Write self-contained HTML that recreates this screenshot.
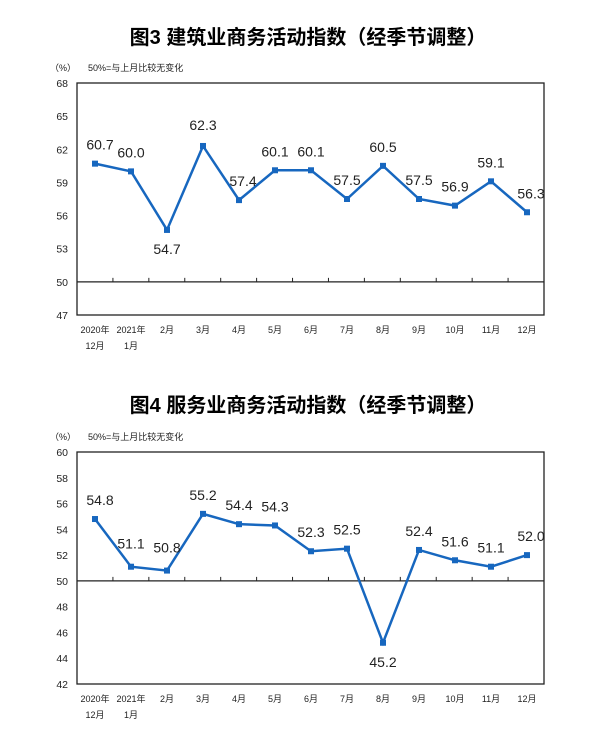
<!DOCTYPE html><html><head><meta charset="utf-8"><style>body{margin:0;background:#fff}svg{display:block}text{font-family:"Liberation Sans","Noto Sans CJK SC",sans-serif}</style></head><body>
<svg id="s" width="602" height="730" xmlns="http://www.w3.org/2000/svg"></svg>
<script>
const s=document.getElementById('s');let h='';
const mons=['2020年','2021年','2月','3月','4月','5月','6月','7月','8月','9月','10月','11月','12月'];
function chart(title,ty,top,bot,ymin,ymax,step,data,offs){
 h+=`<text x="308" y="${ty}" font-size="20" font-weight="bold" text-anchor="middle" fill="#000">${title}</text>`;
 h+=`<text x="50" y="${top-12}" font-size="9" fill="#222">（%）</text><text x="88" y="${top-12}" font-size="9" fill="#222">50%=与上月比较无变化</text>`;
 const Y=v=>bot-(v-ymin)*(bot-top)/(ymax-ymin);
 h+=`<rect x="77" y="${top}" width="467" height="${bot-top}" fill="none" stroke="#222" stroke-width="1.3"/>`;
 for(let v=ymin;v<=ymax;v+=step)h+=`<text x="68" y="${Y(v)+4}" font-size="10.5" text-anchor="end" fill="#222">${v}</text>`;
 const y50=Y(50);h+=`<line x1="77" y1="${y50}" x2="544" y2="${y50}" stroke="#222" stroke-width="1.2"/>`;
 for(let i=1;i<13;i++){const x=77+i*467/13;h+=`<line x1="${x}" y1="${y50}" x2="${x}" y2="${y50-4}" stroke="#222"/>`}
 mons.forEach((m,i)=>{const x=95+i*36;h+=`<text x="${x}" y="${bot+18}" font-size="9" text-anchor="middle" fill="#222">${m}</text>`});
 h+=`<text x="95" y="${bot+34}" font-size="9" text-anchor="middle" fill="#222">12月</text><text x="131" y="${bot+34}" font-size="9" text-anchor="middle" fill="#222">1月</text>`;
 let p=data.map((v,i)=>`${95+i*36},${Y(v)}`).join(' ');
 h+=`<polyline points="${p}" fill="none" stroke="#1767BF" stroke-width="2.5"/>`;
 data.forEach((v,i)=>{const x=95+i*36,y=Y(v);h+=`<rect x="${x-3}" y="${y-3}" width="6" height="6" fill="#1767BF"/>`;
 const o=offs[i];h+=`<text x="${x+(o[0]||0)}" y="${y+o[1]}" font-size="14" text-anchor="middle" fill="#222">${v.toFixed(1)}</text>`});
}
const U=[0,-14],D=[0,24];
chart('图3  建筑业商务活动指数（经季节调整）',44,83,315,47,68,3,[60.7,60.0,54.7,62.3,57.4,60.1,60.1,57.5,60.5,57.5,56.9,59.1,56.3],[[5,-14],U,D,[0,-16],[4,-14],U,U,U,U,U,U,U,[4,-14]]);
chart('图4  服务业商务活动指数（经季节调整）',412,452,684,42,60,2,[54.8,51.1,50.8,55.2,54.4,54.3,52.3,52.5,45.2,52.4,51.6,51.1,52.0],[[5,-14],[0,-18],[0,-18],U,U,U,U,U,D,U,U,U,[4,-14]]);
s.innerHTML=h;
</script></body></html>
